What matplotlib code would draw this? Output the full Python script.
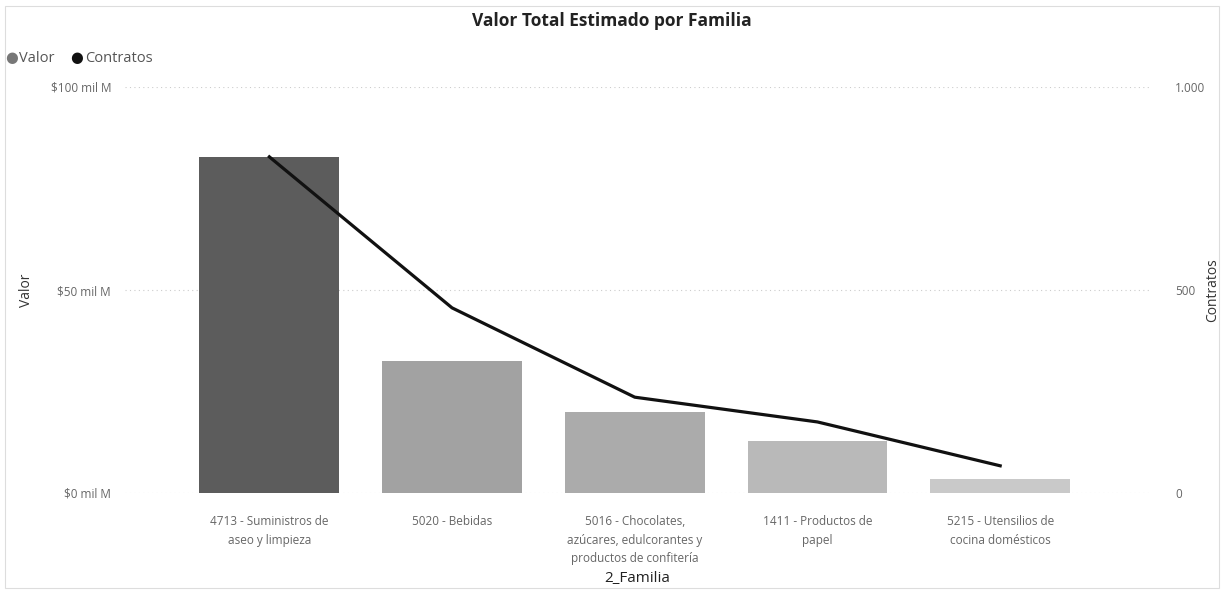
import matplotlib.pyplot as plt
import numpy as np

plt.rcParams['font.family'] = ['Open Sans', 'DejaVu Sans']

# 数据
familias = ['4713 - Suministros de\naseo y limpieza',
            '5020 - Bebidas',
            '5016 - Chocolates,\nazúcares, edulcorantes y\nproductos de confitería',
            '1411 - Productos de\npapel',
            '5215 - Utensilios de\ncocina domésticos']
valor = [82.8, 32.5, 20.0, 12.8, 3.4]          # $ mil M
contratos = [828, 456, 236, 175, 67]
bar_colors = ['#5c5c5c', '#a2a2a2', '#ababab', '#b9b9b9', '#c9c9c9']
y_ticks = [0, 50, 100]
y_ticklabels = ['$0 mil M', '$50 mil M', '$100 mil M']
y2_ticks = [0, 500, 1000]
y2_ticklabels = ['0', '500', '1.000']

fig = plt.figure(figsize=(12.24, 5.9), dpi=100)
ax = fig.add_axes([125 / 1224, 97 / 590, 1025 / 1224, 406 / 590])
ax2 = ax.twinx()

x = np.arange(len(familias))
ax.bar(x, valor, width=0.765, color=bar_colors, zorder=2)
ax2.plot(x, contratos, color='#111111', linewidth=2.3, zorder=3)

ax.set_xlim(-0.79, 4.82)
ax.set_ylim(0, 100)
ax2.set_ylim(0, 1000)

ax.set_yticks(y_ticks)
ax.set_yticklabels(y_ticklabels)
ax2.set_yticks(y2_ticks)
ax2.set_yticklabels(y2_ticklabels)
ax.set_xticks(x)
ax.set_xticklabels(familias, fontsize=9, color='#555555', linespacing=1.55)

for a in (ax, ax2):
    for s in a.spines.values():
        s.set_visible(False)
    a.tick_params(length=0, colors='#666666', labelsize=8.5)
ax.tick_params(axis='y', pad=10)
ax2.tick_params(axis='y', pad=18)
ax.tick_params(axis='x', pad=16)

ax.grid(axis='y', linestyle=(0, (1, 3)), color='#cccccc', linewidth=0.8, zorder=0)
ax.set_axisbelow(True)

ax.set_ylabel('Valor', fontsize=10, color='#333333', labelpad=12)
ax.set_xlabel('2_Familia', fontsize=11, color='#222222', labelpad=4)
# 右侧轴标题（手动放置，避免被裁切）
fig.text(1213 / 1224, 1 - 290 / 590, 'Contratos', rotation=90, ha='center', va='center',
         fontsize=10, color='#333333')

fig.text(0.5, 0.965, 'Valor Total Estimado por Familia', ha='center', va='center',
         fontsize=12.5, fontweight='bold', color='#222222')

# 图例
ly = 1 - 58 / 590
fig.text(5 / 1224, ly, '●', color='#777777', fontsize=10.5, va='center',
         family=['DejaVu Sans'])
fig.text(19 / 1224, ly, 'Valor', color='#555555', fontsize=10.5, va='center')
fig.text(70 / 1224, ly, '●', color='#111111', fontsize=10.5, va='center',
         family=['DejaVu Sans'])
fig.text(85 / 1224, ly, 'Contratos', color='#555555', fontsize=10.5, va='center')

# 边框
fig.add_artist(plt.Rectangle((0.004, 0.004), 0.992, 0.985, transform=fig.transFigure,
                             fill=False, edgecolor='#dddddd', linewidth=0.8))

fig.savefig('out.png', dpi=100)
